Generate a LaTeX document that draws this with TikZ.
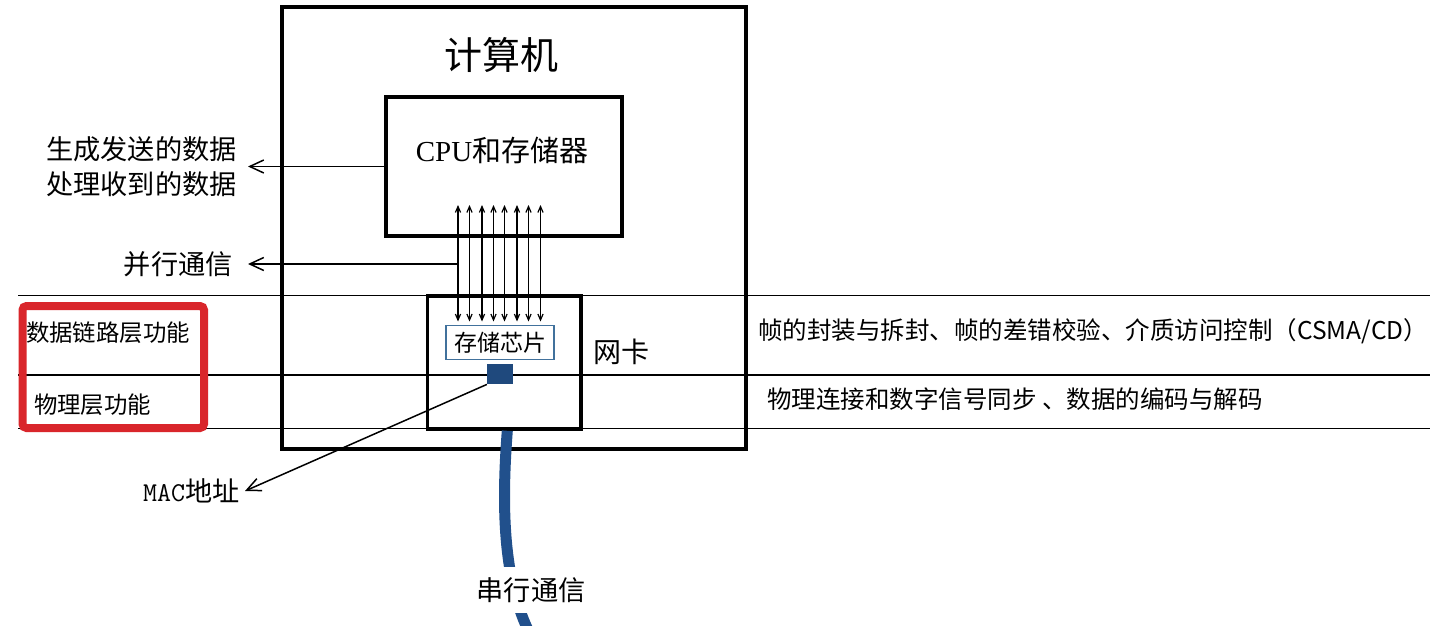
\documentclass[tikz,border=0pt]{standalone}
\usepackage{fontspec}
\setmainfont{Liberation Serif}
\newfontfamily\cjk{Noto Sans CJK SC}
\usetikzlibrary{arrows.meta}
\definecolor{chipblue}{RGB}{65,113,156}
\definecolor{cableblue}{RGB}{33,80,140}
\definecolor{portblue}{RGB}{31,73,125}
\definecolor{markred}{RGB}{217,38,43}

\begin{document}
\begin{tikzpicture}[
	x=0.5pt, y=-0.5pt,
	>={Straight Barb[length=7pt,width=6.5pt]},
	box/.style = {draw, line width=2pt, inner sep=0pt},
	layer/.style = {line width=0.7pt},
	bus/.style = {<->, line width=0.6pt, >={Straight Barb[length=3pt,width=2.6pt]}},
	pointer/.style = {->, line width=0.75pt},
	big/.style = {font={\cjk\fontsize{13.6}{17.5}\selectfont}, inner sep=0pt},
	row/.style = {font={\cjk\fontsize{12.25}{15}\selectfont}, inner sep=0pt},
	side/.style = {font={\cjk\fontsize{11.7}{14}\selectfont}, inner sep=0pt},
]
	\useasboundingbox [fill=white] (0,0) rectangle (1430,626);

	\foreach \y/\name in {295.5/dl, 375/ph, 428.5/bt}{%
		\coordinate (\name-w) at (18,\y);
		\coordinate (\name-e) at (1430,\y);
		\draw [layer] (\name-w) -- (\name-e);
	}

	\node [box, minimum width=232pt, minimum height=221pt] (pc) at (514,228) {};
	\node [big, font={\cjk\fontsize{19}{22}\selectfont}] (pcname) at (501,55) {计算机};

	\node [box, minimum width=118pt, minimum height=69pt] (cpu) at (504,166.5) {};
	\node [font={\fontsize{14.5}{17}\selectfont}, inner sep=0pt] (cpuname) at (502,150) {CPU{\cjk 和存储器}};

	\node [box, line width=1.8pt, minimum width=76.7pt, minimum height=66.5pt] (nic) at (504.3,362.5) {};
	\node [big, font={\cjk\fontsize{14}{17}\selectfont}] (nicname) at (621,352) {网卡};
	\node [draw=chipblue, line width=0.6pt, minimum width=54pt, minimum height=17pt, inner sep=0pt,
	       font={\cjk\fontsize{11.5}{14}\selectfont}] (chip) at (500,342.5) {存储芯片};
	\node [fill=portblue, minimum width=13pt, minimum height=10pt, inner sep=0pt] (port) at (500.3,374) {};

	\foreach \x in {458,469.5,482,493.5,504.5,517,528.5,540.5}{%
		\draw [bus] (\x,205) -- (\x,321.5);
	}

	\node [big, anchor=east, align=right, inner xsep=5.5pt] (data) at (248,166.5) {生成发送的数据\\处理收到的数据};
	\draw [pointer] (cpu.west) -- (data.east);

	\coordinate (tap) at (458,264);
	\node [big, anchor=east, inner xsep=7.5pt] (par) at (248,264) {并行通信};
	\draw [pointer] (tap) -- (par.east);

	\node [big, anchor=east, inner xsep=2.5pt] (mac) at (245,491) {{\ttfamily MAC}{\cjk 地址}};
	\draw [pointer] (port.south west) -- (mac.east);

	\coordinate (plug) at (528,630);
	\draw [cableblue, line width=5.5pt] ([xshift=1.5pt]nic.south) .. controls (502,500) and (502,575) .. (plug);
	\node [big, fill=white, inner xsep=1pt, inner ysep=5pt] (serial) at (531,590) {串行通信};

	\node [draw=markred, line width=4pt, rounded corners=2pt, minimum width=90.75pt, minimum height=61pt] (mark) at (113.25,367) {};
	\node [side] (dlname) at (108,333) {数据链路层功能};
	\node [side] (phname) at (92.5,405) {物理层功能};

	\node [row, anchor=west] (dltask) at (758,331) {帧的封装与拆封、帧的差错校验、介质访问控制（CSMA/CD）};
	\node [row, anchor=west] (phtask) at (767,399) {物理连接和数字信号同步 、数据的编码与解码};
\end{tikzpicture}
\end{document}
